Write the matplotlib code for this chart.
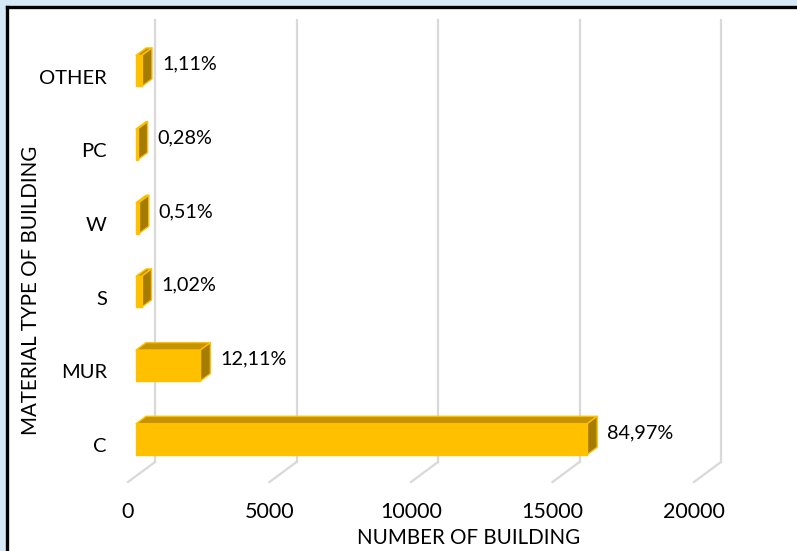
import matplotlib
matplotlib.use('Agg')
import matplotlib.pyplot as plt
from matplotlib.patches import Polygon, Rectangle
from matplotlib.lines import Line2D

# data
categories = ['C', 'MUR', 'S', 'W', 'PC', 'OTHER']
counts = [15940, 2272, 191, 96, 53, 208]
pct_labels = ['84,97%', '12,11%', '1,02%', '0,51%', '0,28%', '1,11%']
xticks = [0, 5000, 10000, 15000, 20000]

plt.rcParams['font.family'] = ['Lato', 'DejaVu Sans']

W, H = 797, 551
fig = plt.figure(figsize=(W / 100, H / 100), dpi=100)
fig.patch.set_facecolor('#D4E8F7')

# white chart area with black top/left border
fig.patches.append(Rectangle((7 / W, 0), 1, 1 - 7 / H, transform=fig.transFigure,
                             facecolor='white', edgecolor='none', zorder=0))
fig.lines.append(Line2D([6.5 / W, 1], [1 - 6.5 / H, 1 - 6.5 / H], transform=fig.transFigure,
                        color='black', lw=2.4))
fig.lines.append(Line2D([6.5 / W, 6.5 / W], [0, 1 - 6.5 / H], transform=fig.transFigure,
                        color='black', lw=2.4))

# front plane of the 3d box
x0px, x1px = 128, 694
ybot, ytop = 482, 40
ax = fig.add_axes([x0px / W, 1 - ybot / H, (x1px - x0px) / W, (ybot - ytop) / H])
ax.set_zorder(3)
ax.set_xlim(0, 20000)
ax.set_ylim(-0.5, 5.5)
ax.axis('off')

# depth (back plane offset) in data units
px_x = 20000 / (x1px - x0px)
px_y = 6.0 / (ybot - ytop)
DX, DY = 27 * px_x, 20 * px_y

grid_c = '#D9D9D9'
for t in xticks:
    ax.plot([t, t + DX], [-0.5, -0.5 + DY], color=grid_c, lw=1.6, clip_on=False, zorder=1)
    ax.plot([t + DX, t + DX], [-0.5 + DY, 5.5 + DY], color=grid_c, lw=1.6, clip_on=False, zorder=1)
    ax.text(t, -0.5 - 30 * px_y, str(t), ha='center', va='center', fontsize=15.5, color='#000000')

# bars
f0, f1 = 0.30, 0.67
hh = 0.21
front_c, top_c, side_c, edge_c = '#FFC000', '#C39300', '#A57C00', '#FFC000'
for i, (v, lab) in enumerate(zip(counts, pct_labels)):
    ax0, ay0 = f0 * DX, f0 * DY
    ax1, ay1 = f1 * DX, f1 * DY
    ylo, yhi = i - hh + ay0, i + hh + ay0
    front = [(ax0, ylo), (ax0 + v, ylo), (ax0 + v, yhi), (ax0, yhi)]
    top = [(ax0, yhi), (ax0 + v, yhi), (ax1 + v, i + hh + ay1), (ax1, i + hh + ay1)]
    side = [(ax0 + v, ylo), (ax1 + v, i - hh + ay1), (ax1 + v, i + hh + ay1), (ax0 + v, yhi)]
    for poly, c in [(top, top_c), (side, side_c), (front, front_c)]:
        ax.add_patch(Polygon(poly, closed=True, facecolor=c, edgecolor=edge_c, lw=1.0,
                             joinstyle='round', clip_on=False, zorder=3))
    ax.text(ax1 + v + 10 * px_x, i + 0.17, lab, ha='left', va='center', fontsize=14.3, zorder=4)
    ax.text(-21 * px_x, i - 0.02, categories[i], ha='right', va='center', fontsize=14.5)

fig.text(469 / W, 1 - 538 / H, 'NUMBER OF BUILDING', ha='center', va='center', fontsize=14.8)
fig.text(31 / W, 1 - 290 / H, 'MATERIAL TYPE OF BUILDING', rotation=90, ha='center', va='center',
         fontsize=14.8)

fig.savefig('out.png', dpi=100)
